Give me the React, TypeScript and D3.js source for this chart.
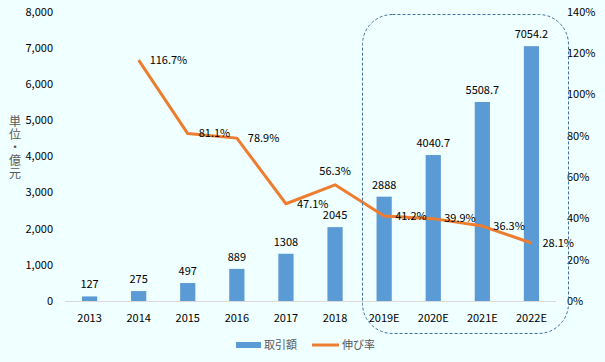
import { useEffect, useRef } from 'react';
import * as d3 from 'd3';

const categories = ['2013', '2014', '2015', '2016', '2017', '2018', '2019E', '2020E', '2021E', '2022E'];
const amounts = [127, 275, 497, 889, 1308, 2045, 2888, 4040.7, 5508.7, 7054.2];
const amountLabels = ['127', '275', '497', '889', '1308', '2045', '2888', '4040.7', '5508.7', '7054.2'];
const growth: (number | null)[] = [null, 116.7, 81.1, 78.9, 47.1, 56.3, 41.2, 39.9, 36.3, 28.1];
const leftTicks = [0, 1000, 2000, 3000, 4000, 5000, 6000, 7000, 8000];
const rightTicks = [0, 20, 40, 60, 80, 100, 120, 140];

const FONT = '"Noto Sans CJK JP", "Noto Sans", sans-serif';

export default function App() {
  const svgRef = useRef<SVGSVGElement>(null);

  useEffect(() => {
    if (!svgRef.current) return;
    const svg = d3.select(svgRef.current);
    svg.selectAll('*').remove();

    const width = 605;
    const height = 362;
    const left = 65;
    const right = 556;
    const top = 12;
    const bottom = 301;

    svg.append('rect').attr('width', width).attr('height', height).attr('fill', '#F0FFFF');

    const x = d3.scaleBand<string>().domain(categories).range([left, right]).paddingInner(0.69).paddingOuter(0.345);
    const y = d3.scaleLinear().domain([0, 8000]).range([bottom, top]);
    const y2 = d3.scaleLinear().domain([0, 140]).range([bottom, top]);

    // left axis labels
    svg.append('g')
      .selectAll('text')
      .data(leftTicks)
      .join('text')
      .attr('x', 53)
      .attr('y', d => y(d))
      .attr('dy', '0.35em')
      .attr('text-anchor', 'end')
      .style('font-family', FONT)
      .style('font-size', '11px')
      .style('fill', '#000')
      .text(d => d3.format(',')(d));

    // right axis labels
    svg.append('g')
      .selectAll('text')
      .data(rightTicks)
      .join('text')
      .attr('x', 567)
      .attr('y', d => y2(d))
      .attr('dy', '0.35em')
      .style('font-family', FONT)
      .style('font-size', '11px')
      .style('fill', '#000')
      .text(d => `${d}%`);

    // unit label (vertical)
    svg.append('text')
      .attr('x', 15)
      .attr('y', 148)
      .attr('text-anchor', 'middle')
      .style('writing-mode', 'vertical-rl')
      .style('font-family', FONT)
      .style('font-size', '12px')
      .style('letter-spacing', '1px')
      .style('fill', '#595959')
      .text('単位・億元');

    // x axis line
    svg.append('line')
      .attr('x1', left).attr('x2', right)
      .attr('y1', bottom + 0.5).attr('y2', bottom + 0.5)
      .attr('stroke', '#D9D9D9');

    // category labels
    svg.append('g')
      .selectAll('text')
      .data(categories)
      .join('text')
      .attr('x', d => (x(d) ?? 0) + x.bandwidth() / 2)
      .attr('y', 318)
      .attr('dy', '0.35em')
      .attr('text-anchor', 'middle')
      .style('font-family', FONT)
      .style('font-size', '11px')
      .style('fill', '#000')
      .text(d => d);

    // bars
    svg.append('g')
      .selectAll('rect')
      .data(amounts)
      .join('rect')
      .attr('x', (_, i) => x(categories[i]) ?? 0)
      .attr('y', d => y(d))
      .attr('width', x.bandwidth())
      .attr('height', d => bottom - y(d))
      .attr('fill', '#5B9BD5');

    svg.append('g')
      .selectAll('text')
      .data(amounts)
      .join('text')
      .attr('x', (_, i) => (x(categories[i]) ?? 0) + x.bandwidth() / 2)
      .attr('y', d => y(d) - 12)
      .attr('dy', '0.35em')
      .attr('text-anchor', 'middle')
      .style('font-family', FONT)
      .style('font-size', '11px')
      .style('fill', '#000')
      .text((_, i) => amountLabels[i]);

    // growth line
    const pts = growth
      .map((g, i) => ({ cat: categories[i], v: g }))
      .filter(p => p.v !== null) as { cat: string; v: number }[];
    const cx = (c: string) => (x(c) ?? 0) + x.bandwidth() / 2;

    svg.append('path')
      .datum(pts)
      .attr('fill', 'none')
      .attr('stroke', '#ED7D31')
      .attr('stroke-width', 3)
      .attr('stroke-linejoin', 'round')
      .attr('d', d3.line<{ cat: string; v: number }>().x(d => cx(d.cat)).y(d => y2(d.v)));

    svg.append('g')
      .selectAll('text')
      .data(pts)
      .join('text')
      .attr('x', d => (d.cat === '2018' ? cx(d.cat) : cx(d.cat) + 11))
      .attr('y', d => (d.cat === '2018' ? y2(d.v) - 14 : y2(d.v)))
      .attr('dy', '0.35em')
      .attr('text-anchor', d => (d.cat === '2018' ? 'middle' : 'start'))
      .style('font-family', FONT)
      .style('font-size', '11px')
      .style('fill', '#000')
      .text(d => `${d.v.toFixed(1)}%`);

    // dashed highlight box
    svg.append('rect')
      .attr('x', 362.5).attr('y', 14.5)
      .attr('width', 206).attr('height', 319)
      .attr('rx', 30).attr('ry', 30)
      .attr('fill', 'none')
      .attr('stroke', '#41719C')
      .attr('stroke-width', 1)
      .attr('stroke-dasharray', '3,2');

    // legend
    const lg = svg.append('g');
    lg.append('rect').attr('x', 236).attr('y', 342).attr('width', 25).attr('height', 6).attr('fill', '#5B9BD5');
    lg.append('text').attr('x', 264).attr('y', 345).attr('dy', '0.35em')
      .style('font-family', FONT).style('font-size', '11px').style('fill', '#595959').text('取引額');
    lg.append('line').attr('x1', 312).attr('x2', 339).attr('y1', 345).attr('y2', 345)
      .attr('stroke', '#ED7D31').attr('stroke-width', 3);
    lg.append('text').attr('x', 342).attr('y', 345).attr('dy', '0.35em')
      .style('font-family', FONT).style('font-size', '11px').style('fill', '#595959').text('伸び率');
  }, []);

  return (
    <svg ref={svgRef} width={605} height={362} style={{ position: 'absolute', left: 0, top: 0 }} />
  );
}
